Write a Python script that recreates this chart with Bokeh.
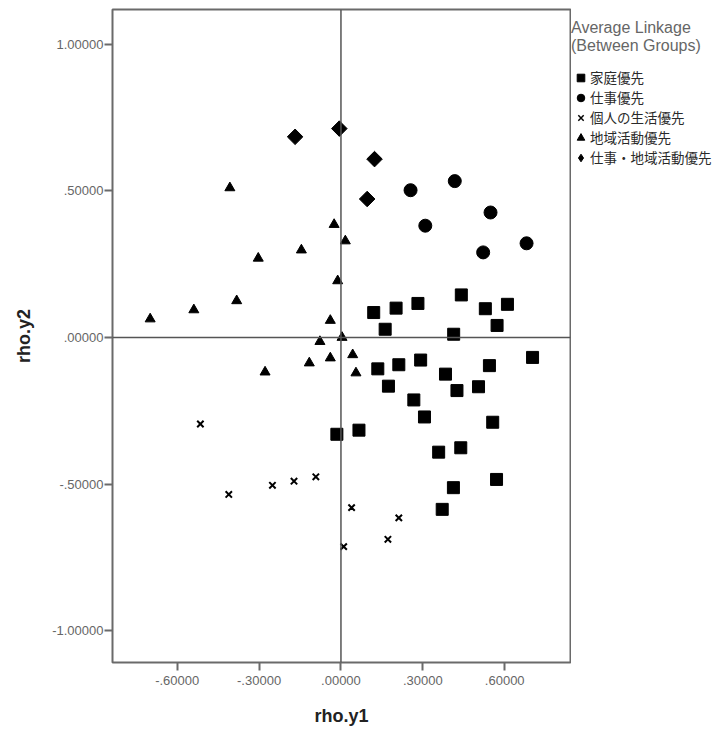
import math
from bokeh.plotting import figure
from bokeh.layouts import row
from bokeh.models import Span, Legend, LegendItem, FixedTicker, Range1d
from bokeh.embed import file_html
from bokeh.resources import INLINE

# ---- data ----
group_names = ["家庭優先", "仕事優先", "個人の生活優先", "地域活動優先", "仕事・地域活動優先"]

family_x = [0.120, 0.202, 0.282, 0.441, 0.529, 0.610, 0.162, 0.413, 0.572, 0.702,
            0.135, 0.212, 0.292, 0.383, 0.544, 0.174, 0.425, 0.504, 0.267, 0.306,
            0.556, 0.066, -0.015, 0.358, 0.439, 0.570, 0.412, 0.371]
family_y = [0.085, 0.100, 0.116, 0.145, 0.098, 0.113, 0.028, 0.011, 0.041, -0.068,
            -0.107, -0.093, -0.077, -0.125, -0.096, -0.166, -0.181, -0.168, -0.213, -0.271,
            -0.289, -0.316, -0.330, -0.391, -0.376, -0.484, -0.512, -0.586]

work_x = [0.255, 0.417, 0.309, 0.548, 0.521, 0.680]
work_y = [0.502, 0.533, 0.381, 0.426, 0.290, 0.321]

personal_x = [-0.515, -0.411, -0.251, -0.172, -0.092, 0.039, 0.212, 0.172, 0.010]
personal_y = [-0.295, -0.535, -0.504, -0.490, -0.475, -0.580, -0.615, -0.688, -0.713]

community_x = [-0.407, -0.025, 0.016, -0.145, -0.303, -0.012, -0.382, -0.539, -0.699,
               -0.039, 0.004, -0.077, -0.116, -0.039, 0.043, 0.055, -0.278]
community_y = [0.510, 0.385, 0.329, 0.298, 0.270, 0.193, 0.125, 0.094, 0.063,
               0.058, 0.000, -0.014, -0.087, -0.070, -0.059, -0.121, -0.118]

workcomm_x = [-0.168, -0.006, 0.123, 0.096]
workcomm_y = [0.684, 0.712, 0.608, 0.472]

x_ticks = [-0.6, -0.3, 0.0, 0.3, 0.6]
x_tick_labels = ["-.60000", "-.30000", ".00000", ".30000", ".60000"]
y_ticks = [-1.0, -0.5, 0.0, 0.5, 1.0]
y_tick_labels = ["-1.00000", "-.50000", ".00000", ".50000", "1.00000"]

legend_title = "Average Linkage\n(Between Groups)"

# ---- main figure ----
p = figure(width=571, height=728, output_backend="svg", toolbar_location=None,
           x_range=Range1d(-0.837, 0.841), y_range=Range1d(-1.108, 1.118),
           min_border_left=112, min_border_right=1, min_border_top=9,
           min_border_bottom=66)

p.xgrid.visible = False
p.ygrid.visible = False
p.outline_line_color = "#6a6a6a"
p.outline_line_width = 2
p.background_fill_color = "white"
p.border_fill_color = "white"

for ax, ticks, labs in ((p.xaxis[0], x_ticks, x_tick_labels), (p.yaxis[0], y_ticks, y_tick_labels)):
    ax.ticker = FixedTicker(ticks=ticks)
    ax.major_label_overrides = {t: l for t, l in zip(ticks, labs)}
    ax.minor_tick_line_color = None
    ax.axis_line_color = None
    ax.major_tick_line_color = "#6a6a6a"
    ax.major_tick_line_width = 2
    ax.major_tick_out = 8
    ax.major_tick_in = 0
    ax.major_label_text_font = "Liberation Sans"
    ax.major_label_text_font_size = "13px"
    ax.major_label_text_color = "#666666"
    ax.axis_label_text_font = "Liberation Sans"
    ax.axis_label_text_font_size = "18px"
    ax.axis_label_text_font_style = "bold"
    ax.axis_label_text_color = "#222222"

p.xaxis.axis_label = "rho.y1"
p.yaxis.axis_label = "rho.y2"
p.xaxis.major_label_standoff = 5
p.xaxis.axis_label_standoff = 18
p.yaxis.major_label_standoff = 1
p.yaxis.axis_label_standoff = 15

p.add_layout(Span(location=0, dimension="width", line_color="#555555", line_width=1.5))
p.add_layout(Span(location=0, dimension="height", line_color="#555555", line_width=1.5))

styles = [
    dict(marker="square", size=12, color="black"),
    dict(marker="circle", size=13, color="black"),
    dict(marker="x", size=9, line_color="black", line_width=2),
    dict(marker="triangle", size=10, color="black"),
    dict(marker="square", size=11, angle=math.pi / 4, color="black"),
]
series = [(family_x, family_y), (work_x, work_y), (personal_x, personal_y),
          (community_x, community_y), (workcomm_x, workcomm_y)]
for (xs, ys), st in zip(series, styles):
    p.scatter(xs, ys, **st)

# ---- legend panel: a separate figure whose ranges lie away from the data,
#      so its renderers only provide the legend glyphs ----
legend_styles = [
    dict(marker="square", color="black"),
    dict(marker="circle", color="black"),
    dict(marker="x", line_color="black", line_width=1.5),
    dict(marker="triangle", color="black"),
    dict(marker="diamond", color="black"),
]
lf = figure(width=151, height=728, output_backend="svg", toolbar_location=None,
            x_axis_type=None, y_axis_type=None, x_range=Range1d(10, 11), y_range=Range1d(10, 11),
            min_border=0, outline_line_color=None)
lf.xgrid.visible = False
lf.ygrid.visible = False
lrs = [lf.scatter(xs, ys, **st) for (xs, ys), st in zip(series, legend_styles)]
items = [LegendItem(label=n, renderers=[r]) for n, r in zip(group_names, lrs)]
legend = Legend(items=items, title=legend_title,
                location=(0, 495), border_line_color=None, background_fill_alpha=0,
                padding=0, margin=0, spacing=0, label_height=19, glyph_height=19, glyph_width=19,
                label_standoff=0, label_text_font="Noto Sans CJK JP", label_text_font_size="13.5px",
                label_text_color="#2a2a2a",
                title_text_font="Liberation Sans", title_text_font_size="16px",
                title_text_font_style="normal", title_text_color="#666666", title_standoff=12)
lf.add_layout(legend)

layout = row(p, lf, spacing=0)
open("out.html", "w").write(file_html(layout, INLINE))
